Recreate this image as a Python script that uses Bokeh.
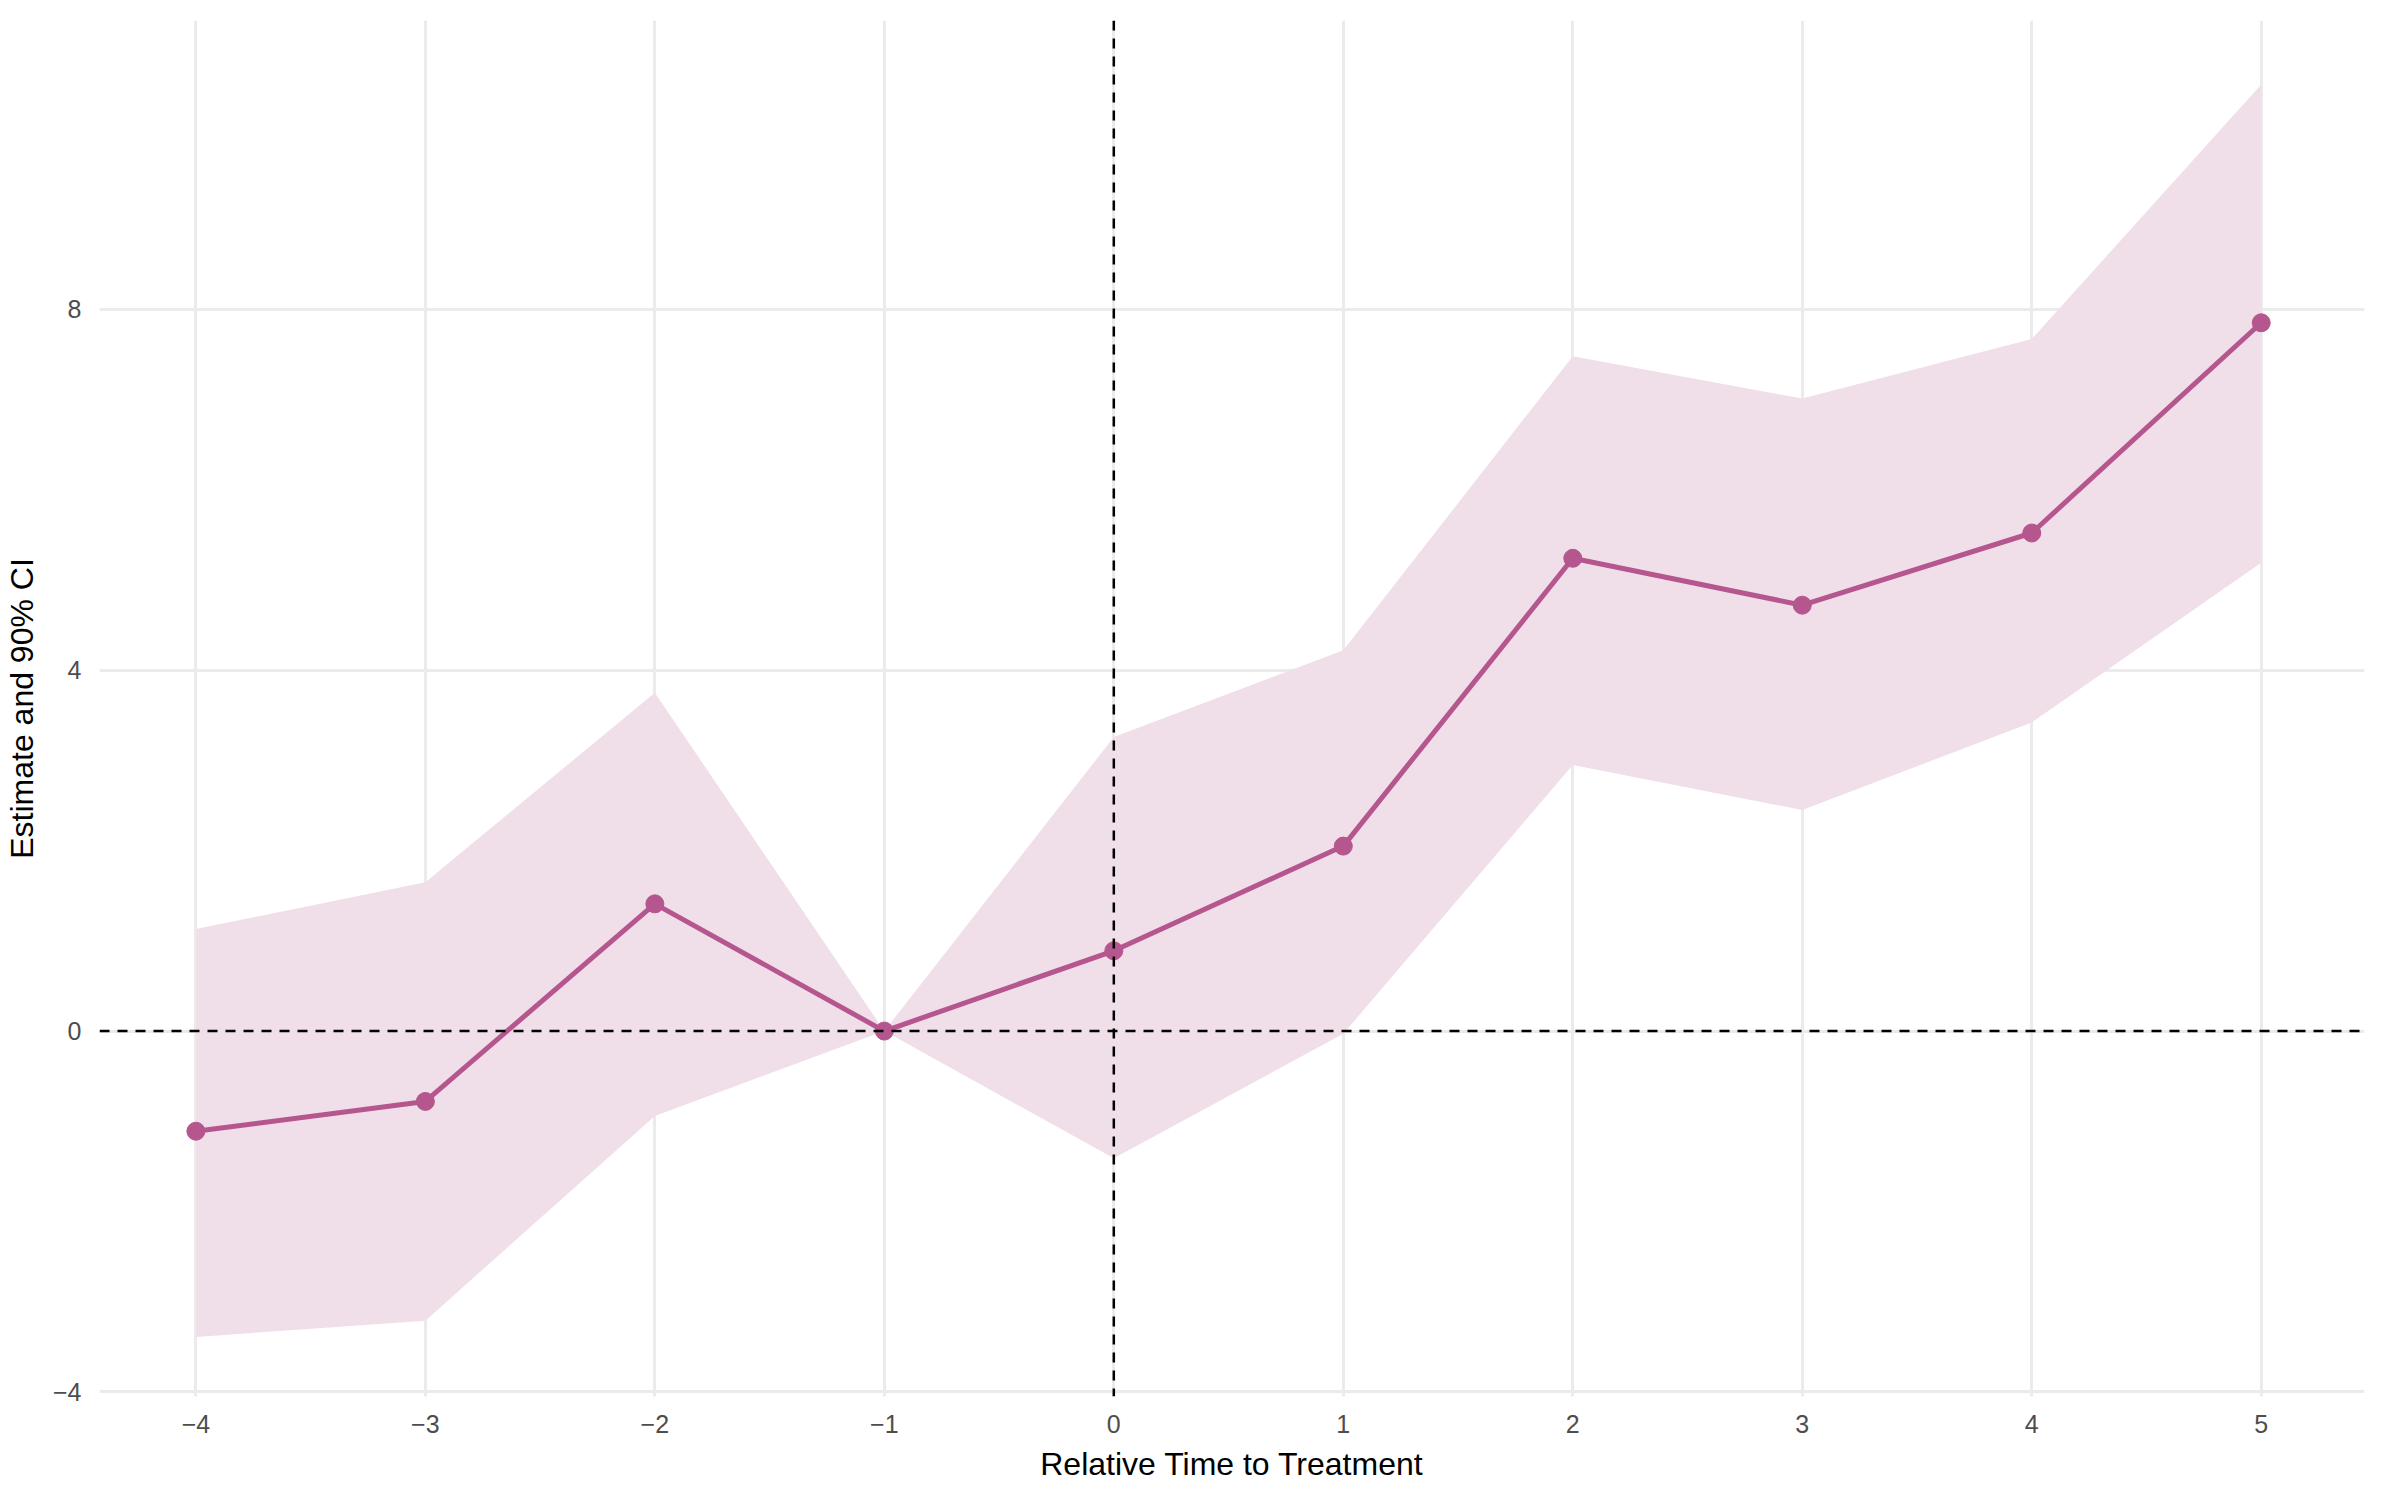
from bokeh.plotting import figure
from bokeh.models import ColumnDataSource, Span, FixedTicker, Range1d
from bokeh.embed import file_html
from bokeh.resources import INLINE

rel_time = [-4, -3, -2, -1, 0, 1, 2, 3, 4, 5]
estimate = [-1.11, -0.78, 1.41, 0.0, 0.89, 2.05, 5.24, 4.72, 5.52, 7.85]
ci_lower = [-3.39, -3.21, -0.94, 0.0, -1.41, -0.03, 2.95, 2.45, 3.42, 5.19]
ci_upper = [1.13, 1.65, 3.75, 0.0, 3.26, 4.22, 7.48, 7.01, 7.67, 10.49]
x_ticks = [-4, -3, -2, -1, 0, 1, 2, 3, 4, 5]
y_ticks = [-4, 0, 4, 8]

src = ColumnDataSource(dict(x=rel_time, y=estimate, lo=ci_lower, hi=ci_upper))

p = figure(width=2384, height=1484, output_backend="svg", toolbar_location=None,
           x_range=Range1d(-4.42, 5.45), y_range=Range1d(-4.05, 11.2))
p.background_fill_color = "white"
p.border_fill_color = "white"
p.outline_line_color = None
p.min_border_left = 40
p.min_border_bottom = 20
p.min_border_top = 20
p.min_border_right = 20

p.varea(x="x", y1="lo", y2="hi", source=src, fill_color="#F0DFE8", fill_alpha=1.0)
p.line(x="x", y="y", source=src, line_color="#B5568F", line_width=5)
p.scatter(x="x", y="y", source=src, size=18, fill_color="#B5568F", line_color="#B5568F")

p.add_layout(Span(location=0, dimension="width", line_color="black", line_dash="10 8", line_width=2.5))
p.add_layout(Span(location=0, dimension="height", line_color="black", line_dash="10 8", line_width=2.5))

p.xaxis.ticker = FixedTicker(ticks=x_ticks)
p.yaxis.ticker = FixedTicker(ticks=y_ticks)
p.xaxis.axis_label = "Relative Time to Treatment"
p.yaxis.axis_label = "Estimate and 90% CI"
for ax in (p.xaxis[0], p.yaxis[0]):
    ax.axis_line_color = None
    ax.major_tick_line_color = None
    ax.minor_tick_line_color = None
    ax.major_label_text_font = "Liberation Sans"
    ax.major_label_text_font_size = "25px"
    ax.major_label_text_color = "#4d4d4d"
    ax.axis_label_text_font = "Liberation Sans"
    ax.axis_label_text_font_size = "32px"
    ax.axis_label_text_font_style = "normal"
    ax.axis_label_text_color = "black"
    ax.axis_label_standoff = 10
    ax.major_label_standoff = 12
p.xgrid.grid_line_color = "#EBEBEB"
p.ygrid.grid_line_color = "#EBEBEB"
p.xgrid.grid_line_width = 3
p.ygrid.grid_line_width = 3
p.xgrid.ticker = FixedTicker(ticks=x_ticks)
p.ygrid.ticker = FixedTicker(ticks=y_ticks)

open("out.html", "w").write(file_html(p, INLINE))
